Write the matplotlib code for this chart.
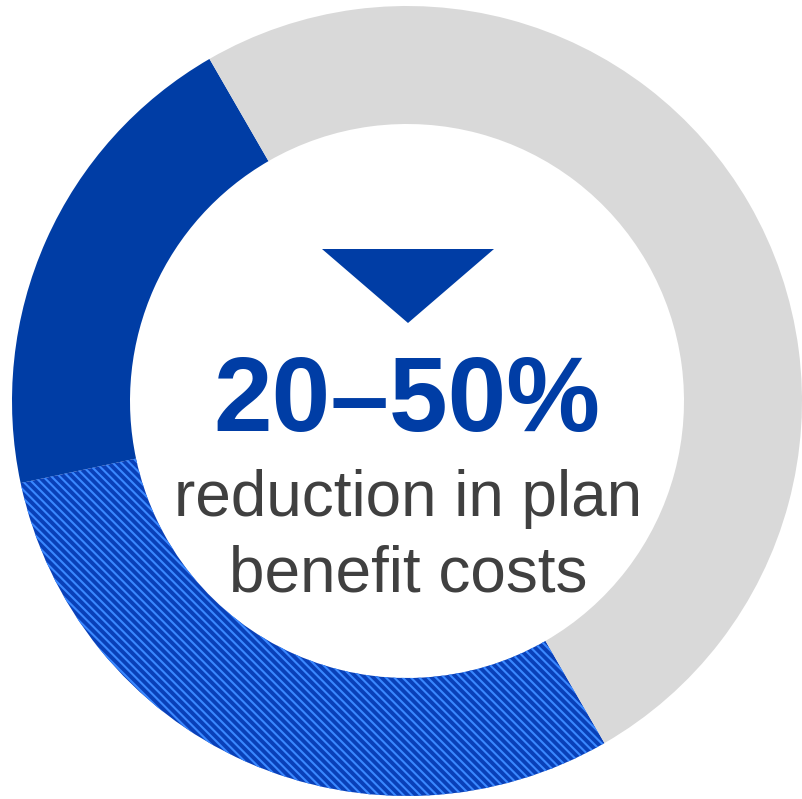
import matplotlib.pyplot as plt
from matplotlib.patches import Polygon

# donut shares: low end of the range, extra up to the high end, the rest
labels = ["20%", "20-50%", "rest"]
shares = [20, 30, 50]
colors = ["#003da5", "#0940b8", "#d9d9d9"]
hatches = [None, "\\\\\\\\", None]
hatch_col = "#3a88ff"

headline = "20\u201350%"
caption = ["reduction in plan", "benefit costs"]

W, H = 802, 799
cx, cy = 407, H - 401   # donut centre (pixels, y up)
R_out, ring = 395, 118

plt.rcParams['hatch.linewidth'] = 1.5
plt.rcParams['font.family'] = ['Liberation Sans', 'DejaVu Sans']

fig = plt.figure(figsize=(W / 100, H / 100), dpi=100)
ax = fig.add_axes([0, 0, 1, 1])

wedges, _ = ax.pie(shares, colors=colors, startangle=120, counterclock=True,
                   radius=R_out, center=(cx, cy),
                   wedgeprops=dict(width=ring, linewidth=0))
for w, h in zip(wedges, hatches):
    if h:
        w.set_hatch(h)
        w.set_edgecolor(hatch_col)
        w.set_linewidth(0)

# downward arrow above the number
tri_w, tri_h, tri_top = 172, 74, H - 249
ax.add_patch(Polygon([(cx - tri_w / 2 + 1, tri_top), (cx + tri_w / 2 + 1, tri_top),
                      (cx + 1, tri_top - tri_h)], closed=True,
                     facecolor="#003da5", edgecolor="none"))

ax.text(cx, H - 431, headline, ha='center', va='baseline', fontsize=76,
        fontweight='bold', color="#003da5")
ax.text(cx + 1, H - 516, caption[0], ha='center', va='baseline', fontsize=46,
        color="#404040")
ax.text(cx + 1, H - 592, caption[1], ha='center', va='baseline', fontsize=46,
        color="#404040")

ax.set_xlim(0, W)
ax.set_ylim(0, H)
ax.set_aspect('equal')
ax.axis('off')

fig.savefig("out.png", dpi=100, facecolor="white")
